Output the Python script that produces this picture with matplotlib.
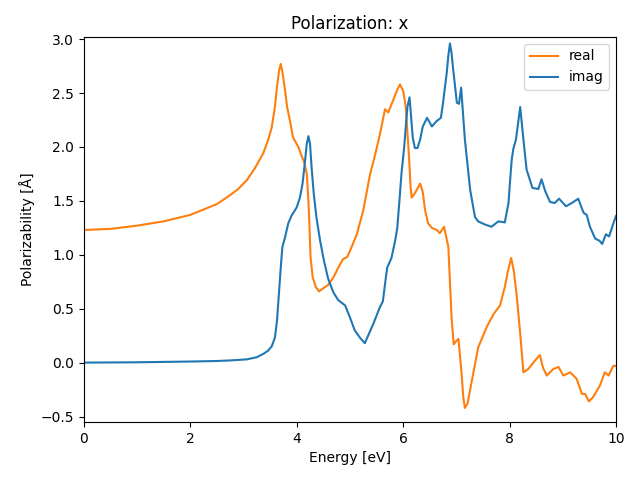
import numpy as np
import matplotlib
matplotlib.use('Agg')
import matplotlib.pyplot as plt

# parte real
energia_real = [0.0, 0.5, 1.0, 1.5, 2.0, 2.5, 2.74, 2.9, 3.06, 3.21, 3.37, 3.46, 3.53,
                3.59, 3.63, 3.67, 3.7, 3.73, 3.78, 3.82, 3.87, 3.93, 4.03, 4.09, 4.14,
                4.19, 4.22, 4.24, 4.26, 4.3, 4.36, 4.42, 4.5, 4.59, 4.69, 4.78, 4.87,
                4.95, 5.03, 5.13, 5.25, 5.38, 5.47, 5.56, 5.66, 5.72, 5.81, 5.88, 5.94,
                6.0, 6.05, 6.11, 6.14, 6.16, 6.22, 6.32, 6.37, 6.41, 6.47, 6.54, 6.63,
                6.69, 6.77, 6.85, 6.91, 6.95, 7.0, 7.04, 7.1, 7.13, 7.16, 7.21, 7.29,
                7.41, 7.57, 7.7, 7.82, 7.91, 7.97, 8.03, 8.08, 8.13, 8.2, 8.26, 8.35,
                8.48, 8.57, 8.63, 8.7, 8.82, 8.92, 9.01, 9.14, 9.26, 9.36, 9.42, 9.49,
                9.57, 9.7, 9.79, 9.86, 9.95, 10.0]
valor_real = [1.23, 1.24, 1.27, 1.31, 1.37, 1.47, 1.55, 1.61, 1.69, 1.80, 1.94, 2.06, 2.18,
              2.37, 2.56, 2.71, 2.77, 2.70, 2.53, 2.37, 2.25, 2.09, 2.00, 1.92, 1.86,
              1.75, 1.50, 1.26, 0.98, 0.79, 0.70, 0.66, 0.69, 0.72, 0.79, 0.88, 0.96,
              0.98, 1.07, 1.19, 1.41, 1.75, 1.92, 2.11, 2.35, 2.32, 2.43, 2.52, 2.58,
              2.52, 2.37, 1.91, 1.63, 1.53, 1.57, 1.66, 1.58, 1.42, 1.29, 1.25, 1.23,
              1.20, 1.26, 1.07, 0.42, 0.17, 0.20, 0.22, -0.11, -0.32, -0.42, -0.38, -0.17,
              0.14, 0.33, 0.45, 0.53, 0.70, 0.85, 0.97, 0.85, 0.64, 0.27, -0.09, -0.06,
              0.02, 0.07, -0.05, -0.12, -0.06, -0.04, -0.12, -0.09, -0.15, -0.29, -0.29, -0.36,
              -0.32, -0.21, -0.09, -0.12, -0.03, -0.03]

# parte imaginaria
energia_imag = [0.0, 1.0, 2.0, 2.5, 2.74, 3.06, 3.25, 3.37, 3.46, 3.53, 3.59, 3.63, 3.67,
                3.7, 3.73, 3.78, 3.84, 3.9, 4.0, 4.06, 4.11, 4.15, 4.19, 4.22, 4.25,
                4.28, 4.32, 4.37, 4.44, 4.51, 4.59, 4.69, 4.78, 4.91, 5.0, 5.09, 5.19,
                5.28, 5.36, 5.44, 5.56, 5.62, 5.66, 5.7, 5.78, 5.85, 5.89, 5.93, 5.97,
                6.02, 6.05, 6.08, 6.12, 6.14, 6.18, 6.22, 6.27, 6.32, 6.37, 6.45, 6.54,
                6.63, 6.71, 6.75, 6.82, 6.85, 6.88, 6.91, 6.94, 7.01, 7.05, 7.09, 7.16,
                7.26, 7.35, 7.41, 7.54, 7.66, 7.79, 7.91, 7.98, 8.01, 8.04, 8.07, 8.12,
                8.2, 8.26, 8.32, 8.43, 8.54, 8.6, 8.67, 8.76, 8.85, 8.93, 9.06, 9.17,
                9.29, 9.39, 9.45, 9.51, 9.61, 9.69, 9.74, 9.81, 9.87, 9.95, 10.0]
valor_imag = [0.0, 0.003, 0.01, 0.015, 0.02, 0.03, 0.05, 0.08, 0.11, 0.15, 0.23, 0.39, 0.67,
              0.88, 1.07, 1.16, 1.29, 1.36, 1.44, 1.53, 1.66, 1.84, 2.03, 2.10, 2.03,
              1.81, 1.57, 1.35, 1.13, 0.95, 0.78, 0.65, 0.58, 0.53, 0.42, 0.30, 0.23,
              0.18, 0.27, 0.36, 0.51, 0.57, 0.73, 0.88, 0.97, 1.13, 1.25, 1.50, 1.76,
              2.00, 2.19, 2.37, 2.46, 2.34, 2.09, 1.99, 1.99, 2.07, 2.19, 2.27, 2.19,
              2.24, 2.27, 2.41, 2.69, 2.85, 2.96, 2.87, 2.72, 2.41, 2.40, 2.55, 2.07,
              1.60, 1.35, 1.31, 1.28, 1.26, 1.31, 1.30, 1.48, 1.69, 1.88, 1.98, 2.07,
              2.37, 2.07, 1.79, 1.62, 1.61, 1.70, 1.59, 1.49, 1.48, 1.52, 1.45, 1.48,
              1.52, 1.39, 1.37, 1.26, 1.15, 1.13, 1.10, 1.19, 1.17, 1.29, 1.36]

plt.figure(figsize=(6.4, 4.8))
plt.plot(energia_real, valor_real, color='C1', label='real')
plt.plot(energia_imag, valor_imag, color='C0', label='imag')
plt.title('Polarization: x')
plt.xlabel('Energy [eV]')
plt.ylabel('Polarizability [Å]')
plt.xlim(0, 10)
plt.ylim(-0.55, 3.02)
plt.legend(loc='upper right')
plt.subplots_adjust(left=0.131, right=0.9625, top=0.923, bottom=0.121)
plt.savefig('out.png', dpi=100)
